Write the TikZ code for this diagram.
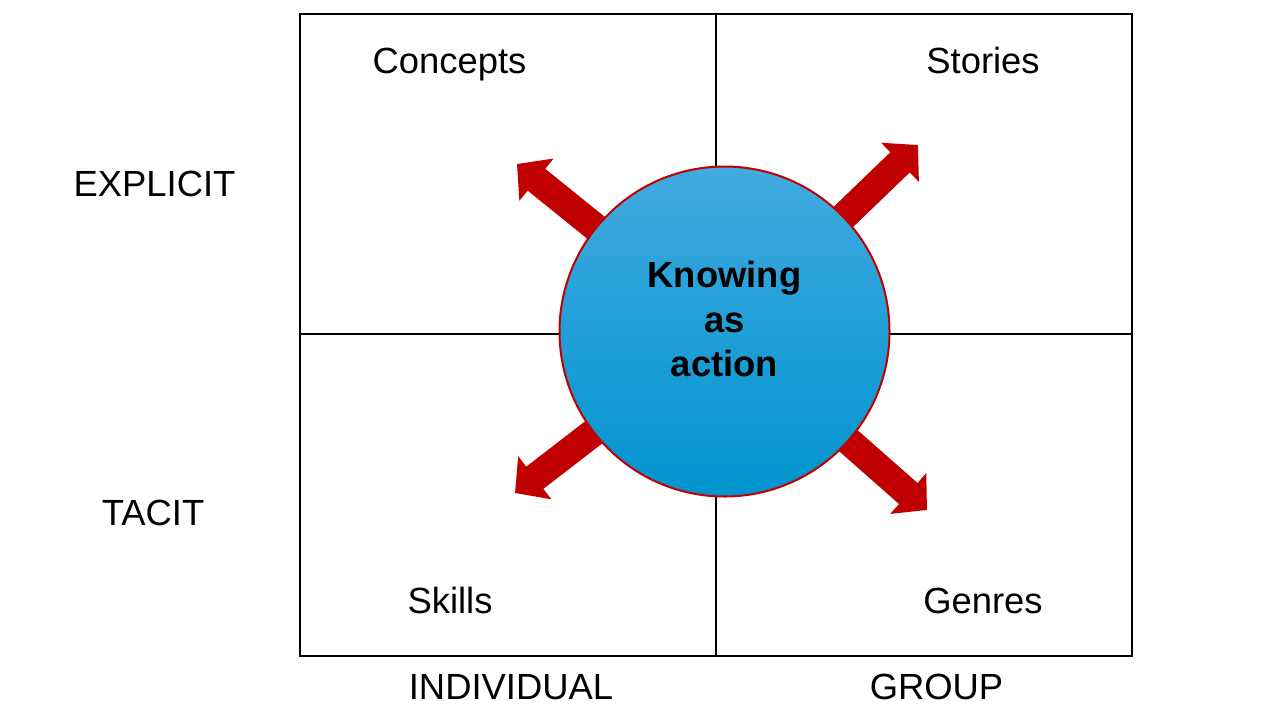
\documentclass[tikz,border=0pt]{standalone}
\usepackage{fontspec}
\setmainfont{Liberation Sans}
\usetikzlibrary{arrows.meta,backgrounds}
\definecolor{arrowred}{RGB}{192,0,0}
\definecolor{balltop}{RGB}{66,170,224}
\definecolor{ballbot}{RGB}{0,148,206}
\tikzset{
  lbl/.style={anchor=base, inner sep=0pt, font=\fontsize{18.2}{22.35}\selectfont},
  bigarrow/.style={draw=arrowred, line width=14pt, -{Triangle[length=12.5pt, width=26.5pt]}},
}

\begin{document}
\begin{tikzpicture}[x=0.5pt,y=0.5pt,yscale=-1,xscale=1]
\useasboundingbox (0,0) rectangle (1280,720);
\coordinate (nw) at (300,14);
\coordinate (se) at (1132,656);
\draw [line width=0.6pt] (716,14) -- (716,656) ;
\draw [line width=0.6pt] (300,334) -- (1132,334) ;
\draw [line width=1pt] (nw) rectangle (se) ;
\node (know) [circle, minimum size=165pt, inner sep=0pt, draw=arrowred, line width=1pt, top color=balltop, bottom color=ballbot, align=center, text depth=12.5pt, font=\bfseries\fontsize{18.2}{22.35}\selectfont] at (724.5,331.5) {Knowing\\as\\action};
\coordinate (tipUL) at (517,164);
\coordinate (tipUR) at (918,145);
\coordinate (tipLL) at (515,493);
\coordinate (tipLR) at (927,510);
\begin{scope}[on background layer]
\draw [bigarrow] (know.center) -- (tipUL) ;
\draw [bigarrow] (know.center) -- (tipUR) ;
\draw [bigarrow] (know.center) -- (tipLL) ;
\draw [bigarrow] (know.center) -- (tipLR) ;
\end{scope}
\node (concepts) [lbl] at (449.5,73) {Concepts};
\node (stories) [lbl] at (983,73) {Stories};
\node (skills) [lbl] at (450,613) {Skills};
\node (genres) [lbl] at (983,613) {Genres};
\node (explicit) [lbl] at (154.5,196) {EXPLICIT};
\node (tacit) [lbl] at (153,525) {TACIT};
\node (individual) [lbl] at (511,699) {INDIVIDUAL};
\node (group) [lbl] at (936.5,699) {GROUP};
\end{tikzpicture}
\end{document}
